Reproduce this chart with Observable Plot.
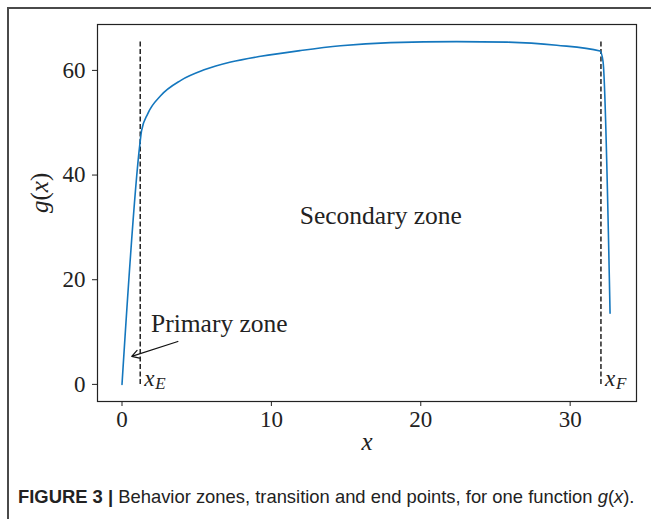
<!DOCTYPE html>
<html>
<head>
<meta charset="utf-8">
<script src="https://cdn.jsdelivr.net/npm/d3@7"></script>
<script src="https://cdn.jsdelivr.net/npm/@observablehq/plot@0.6"></script>
<style>
  html, body { margin: 0; padding: 0; background: #fff; }
  body { position: relative; width: 651px; height: 519px; overflow: hidden; }
  #border { position: absolute; left: 7px; top: 7px; width: 700px; height: 600px;
            border-top: 2px solid #4a4a4a; border-left: 2px solid #4a4a4a; box-sizing: border-box; }
  #chart { position: absolute; left: 0; top: 0; }
  #chart svg text { font-family: "Liberation Serif", "Times New Roman", serif; }
  #caption { position: absolute; left: 18px; top: 486px; font-family: "Liberation Sans", Arial, sans-serif;
             font-size: 18.4px; color: #222; white-space: nowrap; }
  #caption b { font-weight: bold; }
</style>
</head>
<body>
<div id="border"></div>
<div id="chart"></div>
<div id="caption"><b>FIGURE 3 |</b> Behavior zones, transition and end points, for one function <i>g</i>(<i>x</i>).</div>
<script>
// Curve g(x)
const xValues = [0, 1.2, 1.31, 1.72, 2.6, 3.94, 5.5, 7.28, 9.29, 11.96, 14.63, 17.97, 22.4, 25.8, 29.1, 32.0, 32.2, 32.67];
const gValues = [0, 46.0, 48.5, 51.7, 55.2, 58.1, 60.1, 61.6, 62.7, 63.8, 64.7, 65.3, 65.5, 65.4, 64.8, 63.7, 61.7, 13.6];
// Transition and end points
const pointNames = ["E", "F"];
const pointX = [1.22, 32.06];
const gMax = 65.5;
// Ticks
const xTicks = [0, 10, 20, 30];
const yTicks = [0, 20, 40, 60];
// Annotations
const zoneLabels = ["Primary zone", "Secondary zone"];
const zoneX = [1.94, 11.9];
const zoneY = [11.5, 32.3];
const arrowFrom = [3.74, 8.2];
const arrowTo = [0.65, 5.35];

const curve = xValues.map((x, i) => ({x, g: gValues[i]}));
const points = pointNames.map((n, i) => ({name: n, x: pointX[i]}));
const zones = zoneLabels.map((t, i) => ({t, x: zoneX[i], y: zoneY[i]}));

const serif = "Liberation Serif";

const plot = Plot.plot({
  width: 651,
  height: 470,
  marginTop: 24,
  marginRight: 15,
  marginBottom: 69,
  marginLeft: 97,
  style: {fontFamily: serif, fontSize: "22px", background: "transparent", color: "#222"},
  x: {domain: [-1.64, 34.44]},
  y: {domain: [-3.27, 68.77]},
  marks: [
    Plot.axisX({ticks: xTicks, tickSize: 5, tickPadding: 4, label: null, fontSize: 23, fontFamily: serif}),
    Plot.axisY({ticks: yTicks, tickSize: 5, tickPadding: 7, label: null, fontSize: 23, fontFamily: serif}),
    Plot.ruleX(points, {x: "x", y1: 0, y2: gMax, stroke: "#222", strokeWidth: 1.5, strokeDasharray: "5,2.5"}),
    Plot.line(curve, {x: "x", y: "g", stroke: "#1477be", strokeWidth: 1.6, curve: "monotone-x"}),
    Plot.text(zones, {x: "x", y: "y", text: "t", textAnchor: "start", fontSize: 25.5, fontFamily: serif, fill: "#222"}),
    Plot.arrow([0], {x1: () => arrowFrom[0], y1: () => arrowFrom[1], x2: () => arrowTo[0], y2: () => arrowTo[1],
                     stroke: "#111", strokeWidth: 1.2, headLength: 10}),
    Plot.text(points, {x: "x", y: 0, text: () => "x", textAnchor: "start", dx: 4, dy: -6, fontSize: 23, fontFamily: serif, fontStyle: "italic", fill: "#222"}),
    Plot.text(points, {x: "x", y: 0, text: "name", textAnchor: "start", dx: 15, dy: -1, fontSize: 17, fontFamily: serif, fontStyle: "italic", fill: "#222"}),
    Plot.text([0], {frameAnchor: "bottom", text: () => "x", dy: 48, fontSize: 25, fontFamily: serif, fontStyle: "italic", fill: "#222"}),
    Plot.text([0], {frameAnchor: "left", text: () => "g(x)", rotate: -90, dx: -58, fontSize: 25, fontFamily: serif, fill: "#222"}),
    Plot.frame({stroke: "#222", strokeWidth: 1.2})
  ]
});
document.getElementById("chart").appendChild(plot);

// Math styling for g(x): italic letters, upright parentheses
d3.select(plot).selectAll("text").filter(function() { return this.textContent === "g(x)"; })
  .each(function() {
    const t = d3.select(this);
    t.text(null);
    t.append("tspan").attr("font-style", "italic").text("g");
    t.append("tspan").text("(");
    t.append("tspan").attr("font-style", "italic").text("x");
    t.append("tspan").text(")");
  });
</script>
</body>
</html>
